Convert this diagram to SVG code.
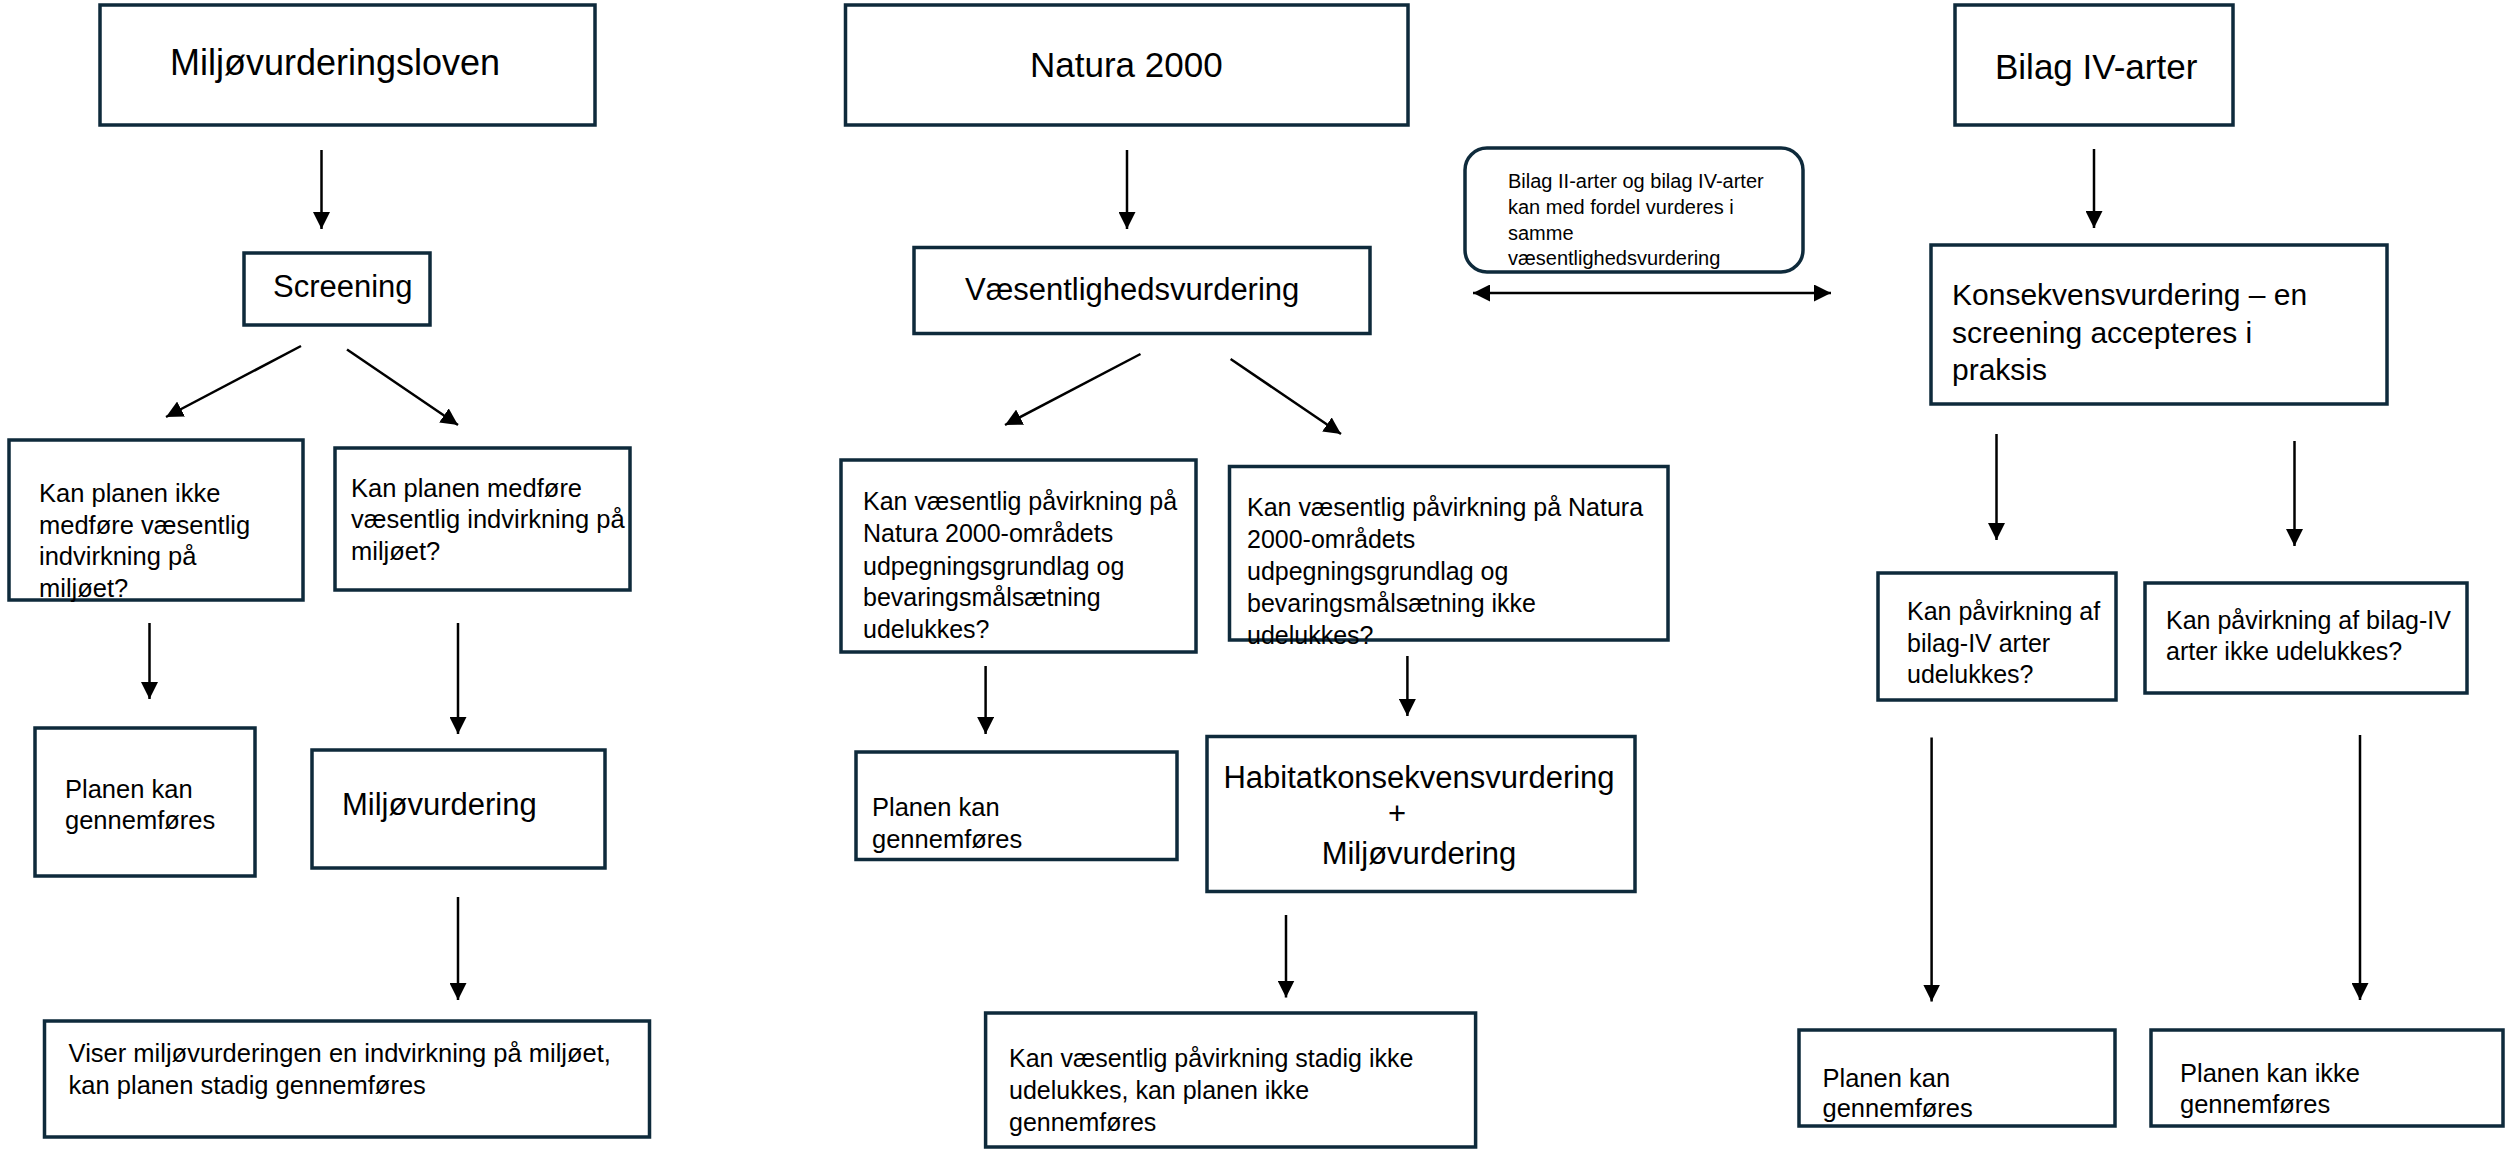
<svg xmlns="http://www.w3.org/2000/svg" width="2507" height="1149" viewBox="0 0 2507 1149">
<defs>
<style>
.box{fill:#ffffff;stroke:#0e2a3b;stroke-width:3.5}
.t{font-family:"Liberation Sans",Arial,sans-serif;fill:#000000}
.h1{font-size:36px}
.h2{font-size:31px}
.b{font-size:25.5px}
.n{font-size:20px}
.c{stroke:#000000;stroke-width:2.5;fill:none;marker-end:url(#ah)}
</style>
<marker id="ah" markerUnits="userSpaceOnUse" markerWidth="17" markerHeight="17" refX="16" refY="8" orient="auto-start-reverse" viewBox="0 0 16 16">
<path d="M0,0 L16,8 L0,16 z" fill="#000000"/>
</marker>
</defs>
<rect width="2507" height="1149" fill="#ffffff"/>

<g id="connectors">
<line class="c" x1="321.5" y1="150" x2="321.5" y2="229"/>
<line class="c" x1="301" y1="346" x2="166" y2="417"/>
<line class="c" x1="347" y1="349.5" x2="458" y2="425"/>
<line class="c" x1="149.5" y1="623" x2="149.5" y2="699"/>
<line class="c" x1="458" y1="623" x2="458" y2="734"/>
<line class="c" x1="458" y1="897" x2="458" y2="1000"/>
<line class="c" x1="1127" y1="150" x2="1127" y2="229"/>
<line class="c" x1="1140.5" y1="354" x2="1005" y2="425"/>
<line class="c" x1="1230.6" y1="359" x2="1341" y2="434"/>
<line class="c" x1="985.6" y1="666" x2="985.6" y2="734"/>
<line class="c" x1="1407.4" y1="656" x2="1407.4" y2="716"/>
<line class="c" x1="1286" y1="915" x2="1286" y2="997.5"/>
<line class="c" x1="1473" y1="293" x2="1831" y2="293" style="marker-start:url(#ah)"/>
<line class="c" x1="2094" y1="149" x2="2094" y2="228"/>
<line class="c" x1="1996.5" y1="434" x2="1996.5" y2="540"/>
<line class="c" x1="2294.5" y1="441" x2="2294.5" y2="546"/>
<line class="c" x1="1931.6" y1="737.5" x2="1931.6" y2="1001.5"/>
<line class="c" x1="2360" y1="735" x2="2360" y2="1000"/>
</g>

<g id="n_miljovurderingsloven">
<rect class="box" x="100" y="5" width="495" height="120"/>
<text class="t h1" x="170" y="75">Miljøvurderingsloven</text>
</g>
<g id="n_screening">
<rect class="box" x="244" y="253" width="186" height="72"/>
<text class="t h2" x="273" y="296.5">Screening</text>
</g>
<g id="n_q_ikke_vaesentlig">
<rect class="box" x="9" y="440" width="294" height="160"/>
<text class="t b"><tspan x="39" y="502">Kan planen ikke</tspan><tspan x="39" y="534">medføre væsentlig</tspan><tspan x="39" y="565">indvirkning på</tspan><tspan x="39" y="597">miljøet?</tspan></text>
</g>
<g id="n_q_vaesentlig">
<rect class="box" x="335" y="448" width="295" height="142"/>
<text class="t b"><tspan x="351" y="497">Kan planen medføre</tspan><tspan x="351" y="528">væsentlig indvirkning på</tspan><tspan x="351" y="559.5">miljøet?</tspan></text>
</g>
<g id="n_planen_kan_1">
<rect class="box" x="35" y="728" width="220" height="148"/>
<text class="t b"><tspan x="65" y="798">Planen kan</tspan><tspan x="65" y="829">gennemføres</tspan></text>
</g>
<g id="n_miljovurdering">
<rect class="box" x="312" y="750" width="293" height="118"/>
<text class="t h2" x="342" y="815">Miljøvurdering</text>
</g>
<g id="n_viser">
<rect class="box" x="44.5" y="1021" width="605" height="116"/>
<text class="t b"><tspan x="68.6" y="1062">Viser miljøvurderingen en indvirkning på miljøet,</tspan><tspan x="68.6" y="1093.5">kan planen stadig gennemføres</tspan></text>
</g>

<g id="n_natura2000">
<rect class="box" x="845.5" y="5" width="562.5" height="120"/>
<text class="t" style="font-size:35px" x="1030" y="76.6">Natura 2000</text>
</g>
<g id="n_vaesentlighedsvurdering">
<rect class="box" x="914" y="247.5" width="456" height="86"/>
<text class="t h2" x="965" y="300">Væsentlighedsvurdering</text>
</g>
<g id="n_q_udelukkes">
<rect class="box" x="841" y="460" width="355" height="192"/>
<text class="t b" style="font-size:25px"><tspan x="863" y="510">Kan væsentlig påvirkning på</tspan><tspan x="863" y="542">Natura 2000-områdets</tspan><tspan x="863" y="575">udpegningsgrundlag og</tspan><tspan x="863" y="606">bevaringsmålsætning</tspan><tspan x="863" y="638">udelukkes?</tspan></text>
</g>
<g id="n_q_ikke_udelukkes">
<rect class="box" x="1229.5" y="466.5" width="438.5" height="173.5"/>
<text class="t b" style="font-size:25px"><tspan x="1247" y="516">Kan væsentlig påvirkning på Natura</tspan><tspan x="1247" y="548">2000-områdets</tspan><tspan x="1247" y="580">udpegningsgrundlag og</tspan><tspan x="1247" y="612">bevaringsmålsætning ikke</tspan><tspan x="1247" y="644">udelukkes?</tspan></text>
</g>
<g id="n_planen_kan_2">
<rect class="box" x="856" y="752" width="321" height="107.5"/>
<text class="t b"><tspan x="872" y="816">Planen kan</tspan><tspan x="872" y="848">gennemføres</tspan></text>
</g>
<g id="n_habitat">
<rect class="box" x="1207" y="736.5" width="428" height="155"/>
<text class="t h2" text-anchor="middle"><tspan x="1419" y="788">Habitatkonsekvensvurdering</tspan><tspan x="1397" y="824">+</tspan><tspan x="1419" y="864">Miljøvurdering</tspan></text>
</g>
<g id="n_planen_ikke_natura">
<rect class="box" x="985.6" y="1013" width="490" height="134"/>
<text class="t b" style="font-size:25px"><tspan x="1009" y="1067">Kan væsentlig påvirkning stadig ikke</tspan><tspan x="1009" y="1099">udelukkes, kan planen ikke</tspan><tspan x="1009" y="1131">gennemføres</tspan></text>
</g>
<g id="n_note">
<rect class="box" x="1465" y="148" width="338" height="124" rx="22" ry="22"/>
<text class="t n"><tspan x="1508" y="188">Bilag II-arter og bilag IV-arter</tspan><tspan x="1508" y="214">kan med fordel vurderes i</tspan><tspan x="1508" y="240">samme</tspan><tspan x="1508" y="265">væsentlighedsvurdering</tspan></text>
</g>

<g id="n_bilag_iv">
<rect class="box" x="1955" y="5" width="278" height="120"/>
<text class="t" style="font-size:35px" x="1995" y="79">Bilag IV-arter</text>
</g>
<g id="n_konsekvensvurdering">
<rect class="box" x="1931" y="245" width="456" height="159"/>
<text class="t" style="font-size:30px"><tspan x="1952" y="305">Konsekvensvurdering – en</tspan><tspan x="1952" y="343">screening accepteres i</tspan><tspan x="1952" y="380">praksis</tspan></text>
</g>
<g id="n_q_bilag_udelukkes">
<rect class="box" x="1878" y="573" width="238" height="127"/>
<text class="t b" style="font-size:25px"><tspan x="1907" y="620">Kan påvirkning af</tspan><tspan x="1907" y="652">bilag-IV arter</tspan><tspan x="1907" y="683">udelukkes?</tspan></text>
</g>
<g id="n_q_bilag_ikke_udelukkes">
<rect class="box" x="2145" y="583" width="322" height="110"/>
<text class="t b" style="font-size:25px"><tspan x="2166" y="629">Kan påvirkning af bilag-IV</tspan><tspan x="2166" y="660">arter ikke udelukkes?</tspan></text>
</g>
<g id="n_planen_kan_3">
<rect class="box" x="1799" y="1030" width="316" height="96"/>
<text class="t b"><tspan x="1822.5" y="1087">Planen kan</tspan><tspan x="1822.5" y="1117">gennemføres</tspan></text>
</g>
<g id="n_planen_kan_ikke">
<rect class="box" x="2151" y="1030" width="352" height="96"/>
<text class="t b"><tspan x="2180" y="1082">Planen kan ikke</tspan><tspan x="2180" y="1113">gennemføres</tspan></text>
</g>
</svg>
